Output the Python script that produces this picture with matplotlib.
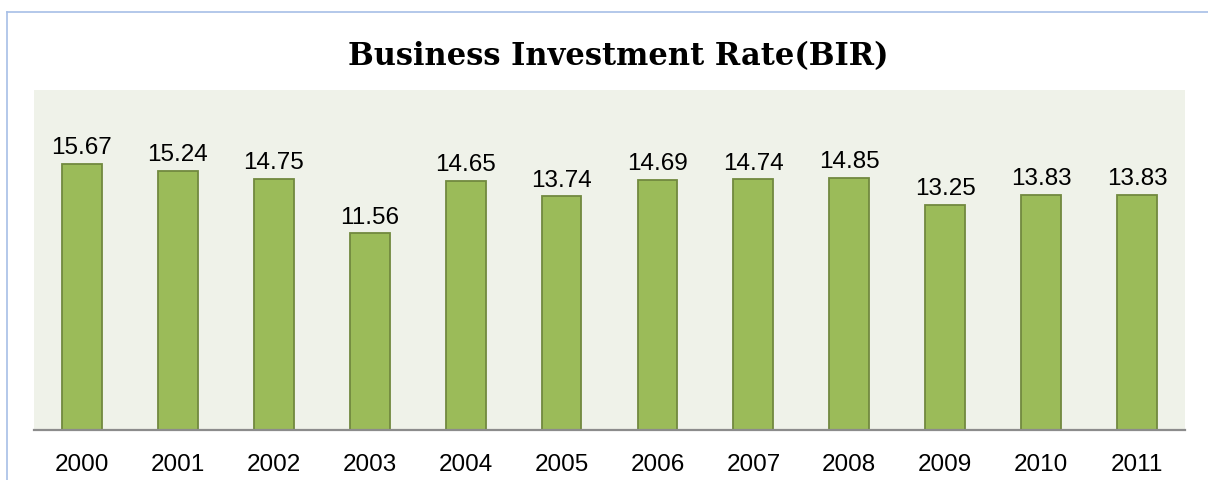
import matplotlib
matplotlib.use("Agg")
import matplotlib.pyplot as plt
from matplotlib.lines import Line2D

years = ["2000", "2001", "2002", "2003", "2004", "2005",
         "2006", "2007", "2008", "2009", "2010", "2011"]
bir = [15.67, 15.24, 14.75, 11.56, 14.65, 13.74,
       14.69, 14.74, 14.85, 13.25, 13.83, 13.83]
value_labels = ["15.67", "15.24", "14.75", "11.56", "14.65", "13.74",
                "14.69", "14.74", "14.85", "13.25", "13.83", "13.83"]
title = "Business Investment Rate(BIR)"

label_font = "Liberation Sans"

fig = plt.figure(figsize=(12.08, 4.8), dpi=100)
fig.patch.set_facecolor("white")

# chart frame (top and left edges visible)
frame_col = "#A7BFE6"
fig.add_artist(Line2D([7 / 1208, 1.0], [1 - 11.5 / 480, 1 - 11.5 / 480],
                      color=frame_col, lw=1.2, transform=fig.transFigure))
fig.add_artist(Line2D([7.5 / 1208, 7.5 / 1208], [0.0, 1 - 11.5 / 480],
                      color=frame_col, lw=1.2, transform=fig.transFigure))

ax = fig.add_axes([34 / 1208, 50 / 480, 1151 / 1208, 340 / 480])
ax.set_facecolor("#EFF2E9")

x = list(range(len(years)))
bars = ax.bar(x, bir, width=0.415, color="#9BBB59", edgecolor="#71893F",
              linewidth=1.3, zorder=2)

for b, lab in zip(bars, value_labels):
    ax.annotate(lab, (b.get_x() + b.get_width() / 2, b.get_height()),
                xytext=(0, 3.5), textcoords="offset points",
                ha="center", va="bottom", fontsize=17.5,
                family=label_font, color="black")

ax.set_xlim(-0.5, len(years) - 0.5)
ax.set_ylim(0, 20)
ax.set_xticks(x)
ax.set_xticklabels(years, fontsize=17.5, family=label_font)
ax.tick_params(axis="x", length=0, pad=17.5)
ax.set_yticks([])

for s in ["top", "right", "left"]:
    ax.spines[s].set_visible(False)
ax.spines["bottom"].set_color("#8C8C8C")
ax.spines["bottom"].set_linewidth(1.6)
ax.spines["bottom"].set_zorder(3)

fig.text(618 / 1208, 1 - 65 / 480, title, ha="center", va="baseline",
         fontsize=22, fontweight="bold", family="DejaVu Serif")

fig.savefig("out.png", dpi=100, facecolor="white")
